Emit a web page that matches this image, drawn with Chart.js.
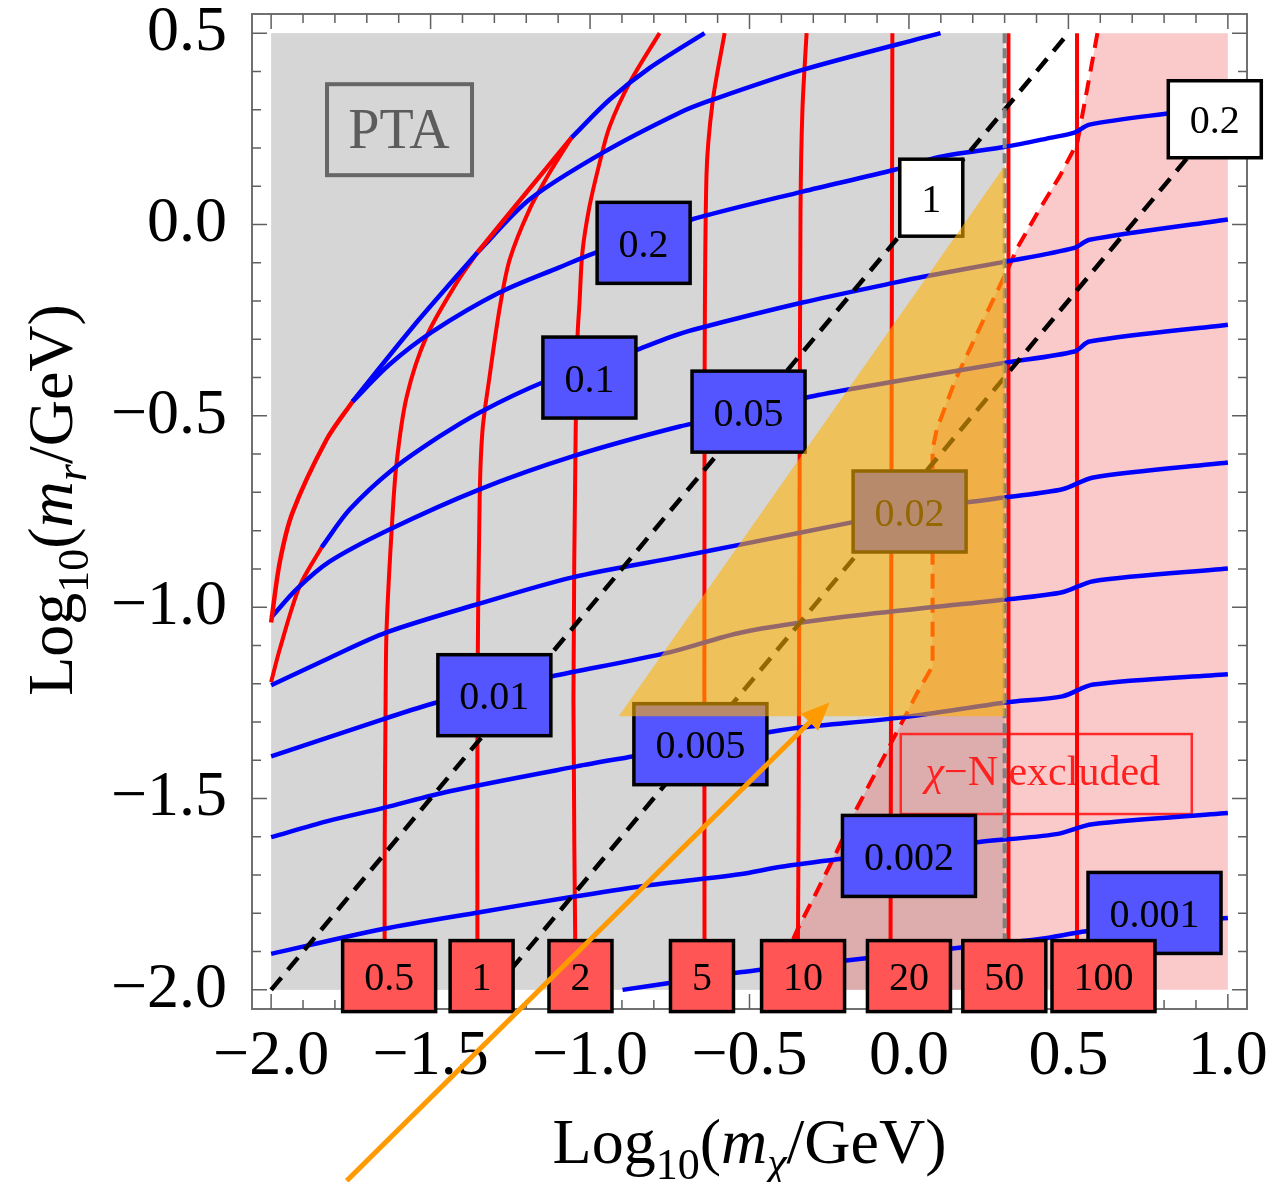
<!DOCTYPE html>
<html>
<head>
<meta charset="utf-8">
<title>Contours</title>
<script src="https://cdn.jsdelivr.net/npm/chart.js@4.4.1/dist/chart.umd.min.js"></script>
<style>
  html, body { margin: 0; padding: 0; background: #ffffff; }
  canvas { display: block; }
</style>
</head>
<body>
<canvas id="contours" width="1272" height="1182"></canvas>
<script>
// axis ticks
const xMajorTicks = [-2.0, -1.5, -1.0, -0.5, 0.0, 0.5, 1.0];
const yMajorTicks = [-2.0, -1.5, -1.0, -0.5, 0.0, 0.5];
const xMinorTicks = [-1.9, -1.8, -1.7, -1.6, -1.4, -1.3, -1.2, -1.1, -0.9, -0.8, -0.7, -0.6,
                     -0.4, -0.3, -0.2, -0.1, 0.1, 0.2, 0.3, 0.4, 0.6, 0.7, 0.8, 0.9];
const yMinorTicks = [-1.9, -1.8, -1.7, -1.6, -1.4, -1.3, -1.2, -1.1, -0.9, -0.8, -0.7, -0.6,
                     -0.4, -0.3, -0.2, -0.1, 0.1, 0.2, 0.3, 0.4];

// blue contours [log10 m_chi, log10 m_r]
const blue_0_2 = [[-1.745,-0.463],[-1.629,-0.366],[-1.494,-0.280],[-1.284,-0.178],[-1.096,-0.112],[-0.980,-0.073],[-0.829,-0.032],[-0.682,0.013],[-0.334,0.086],[-0.045,0.143],[0.099,0.177],[0.303,0.203],[0.447,0.227],[0.519,0.240],[0.566,0.261],[0.829,0.292],[1.0,0.310]];
const blue_0_1 = [[-1.842,-0.844],[-1.754,-0.745],[-1.619,-0.640],[-1.472,-0.554],[-1.346,-0.491],[-1.149,-0.413],[-1.002,-0.374],[-0.851,-0.327],[-0.751,-0.295],[-0.676,-0.275],[-0.334,-0.204],[-0.045,-0.152],[0.049,-0.136],[0.303,-0.097],[0.519,-0.061],[0.566,-0.040],[1.0,0.013]];
const blue_0_05 = [[-2.0,-1.027],[-1.920,-0.953],[-1.817,-0.881],[-1.629,-0.797],[-1.346,-0.692],[-1.055,-0.606],[-0.719,-0.528],[-0.503,-0.489],[-0.321,-0.452],[-0.190,-0.431],[0.027,-0.400],[0.303,-0.361],[0.519,-0.332],[0.566,-0.306],[1.0,-0.262]];
const blue_0_02 = [[-2.0,-1.204],[-1.826,-1.136],[-1.638,-1.066],[-1.356,-0.993],[-1.055,-0.922],[-0.719,-0.868],[-0.525,-0.836],[-0.183,-0.779],[0.002,-0.750],[0.183,-0.726],[0.303,-0.713],[0.481,-0.692],[0.578,-0.661],[1.0,-0.622]];
const blue_0_01 = [[-2.0,-1.390],[-1.650,-1.293],[-1.481,-1.249],[-1.300,-1.215],[-1.121,-1.181],[-0.751,-1.118],[-0.525,-1.066],[-0.190,-1.024],[0.303,-0.980],[0.481,-0.961],[0.578,-0.932],[1.0,-0.899]];
const blue_0_005 = [[-2.0,-1.601],[-1.823,-1.559],[-1.650,-1.525],[-1.440,-1.481],[-1.042,-1.416],[-0.867,-1.390],[-0.654,-1.358],[-0.440,-1.327],[-0.334,-1.314],[-0.020,-1.288],[0.303,-1.249],[0.481,-1.233],[0.578,-1.202],[1.0,-1.175]];
const blue_0_002 = [[-2.0,-1.906],[-1.650,-1.841],[-1.346,-1.797],[-1.064,-1.758],[-0.835,-1.729],[-0.531,-1.698],[-0.406,-1.679],[-0.218,-1.658],[0.0,-1.637],[0.215,-1.614],[0.462,-1.593],[0.575,-1.567],[1.0,-1.538]];
const blue_0_001 = [[-0.898,-2.0],[-0.710,-1.977],[-0.531,-1.954],[-0.218,-1.925],[0.199,-1.886],[0.409,-1.867],[0.556,-1.847],[0.770,-1.828],[1.0,-1.812]];
const blue_top = [[-1.353,-0.073],[-1.190,0.065],[-0.961,0.187],[-0.719,0.292],[-0.616,0.326],[-0.334,0.404],[0.099,0.500]];

// outer envelope, alternating colours
const edge_red_a = [[-2.0,-1.040],[-1.973,-0.883],[-1.933,-0.753],[-1.826,-0.562],[-1.745,-0.463]];
const edge_blue_a = [[-1.745,-0.463],[-1.550,-0.262],[-1.353,-0.073]];
const edge_red_b = [[-1.353,-0.073],[-1.205,0.078],[-1.058,0.227]];
const edge_blue_b = [[-1.058,0.227],[-0.939,0.326],[-0.813,0.409],[-0.641,0.500]];
const edge_red_c = [[-2.0,-1.196],[-1.973,-1.110],[-1.911,-0.946],[-1.842,-0.844]];

// red contours
const red_0_5 = [[-1.644,-2.0],[-1.644,-1.632],[-1.641,-1.241],[-1.638,-1.058],[-1.622,-0.797],[-1.607,-0.626],[-1.575,-0.450],[-1.513,-0.293],[-1.418,-0.152],[-1.353,-0.073]];
const red_1 = [[-1.353,-2.0],[-1.353,-1.241],[-1.346,-0.711],[-1.337,-0.536],[-1.315,-0.397],[-1.284,-0.222],[-1.252,-0.092],[-1.190,0.039],[-1.127,0.135],[-1.058,0.227]];
const red_2 = [[-1.045,-2.0],[-1.052,-1.241],[-1.045,-0.536],[-1.039,-0.288],[-1.033,-0.204],[-1.024,-0.073],[-1.002,0.046],[-0.970,0.161],[-0.939,0.255],[-0.876,0.370],[-0.782,0.5]];
const red_5 = [[-0.641,-2.0],[-0.641,-0.536],[-0.635,0.125],[-0.616,0.318],[-0.578,0.5]];
const red_10 = [[-0.349,-2.0],[-0.346,-1.554],[-0.343,-0.718],[-0.340,0.039],[-0.334,0.300],[-0.321,0.5]];
const red_20 = [[-0.058,-2.0],[-0.055,-0.718],[-0.052,0.5]];
const red_50 = [[0.312,-2.0],[0.312,0.5]];
const red_100 = [[0.527,-2.0],[0.527,0.5]];

// m_r / m_chi ratio lines
const ratio_1 = [[-2.0,-2.0],[0.5,0.5]];
const ratio_0_2 = [[-1.301,-2.0],[1.0,0.301]];

// regions
const ptaX = [-2.0, 0.3];
const ptaY = [-2.0, 0.5];
const excludedEdge = [[0.591,0.5],[0.566,0.386],[0.541,0.274],[0.528,0.214],[0.472,0.125],[0.409,0.039],[0.340,-0.061],[0.309,-0.118],[0.230,-0.256],[0.146,-0.405],[0.087,-0.536],[0.074,-0.588],[0.074,-1.154],[0.027,-1.222],[-0.017,-1.293],[-0.071,-1.379],[-0.165,-1.528],[-0.227,-1.640],[-0.290,-1.745],[-0.349,-1.841],[-0.434,-2.0]];
const excludedOuter = [[1.0,-2.0],[1.0,0.5]];
const triangle = [[-0.91,-1.285],[0.3,-1.285],[0.3,0.153]];
const arrowTail = [-1.763,-2.499];
const arrowTip = [-0.249,-1.249];

// contour labels
const blueLabels = ['0.2','0.1','0.05','0.02','0.01','0.005','0.002','0.001'];
const blueLabelPos = [[-0.832,-0.048],[-1.002,-0.400],[-0.503,-0.489],[0.002,-0.750],[-1.300,-1.230],[-0.654,-1.358],[0.0,-1.650],[0.770,-1.799]];
const redLabels = ['0.5','1','2','5','10','20','50','100'];
const redLabelX = [-1.630,-1.340,-1.030,-0.649,-0.332,0.0,0.299,0.610];
const redLabelY = -1.964;
const ratioLabels = ['1','0.2'];
const ratioLabelPos = [[0.070,0.070],[0.959,0.275]];
const ptaPos = [-1.599, 0.249];
const excludedPos = [0.429, -1.436];

const SERIF = '"Liberation Serif", "DejaVu Serif", serif';
const RED = '#ff0000';
const BLUE = '#0000ff';

const datasets = [];
function addLine(points, color, width, dash, tension) {
    datasets.push({
        data: points.map(p => ({ x: p[0], y: p[1] })),
        showLine: true,
        fill: false,
        pointRadius: 0,
        pointHoverRadius: 0,
        borderColor: color,
        borderWidth: width,
        borderDash: dash || [],
        borderCapStyle: 'butt',
        tension: tension,
        order: -datasets.length // later lines drawn on top
    });
}

[red_0_5, red_1, red_2, red_5, red_10, red_20, red_50, red_100, edge_red_c].forEach(c => addLine(c, RED, 4, null, 0.3));
addLine(excludedEdge, RED, 4, [15, 9], 0);
[blue_0_2, blue_0_1, blue_0_05, blue_0_02, blue_0_01, blue_0_005, blue_0_002, blue_0_001, blue_top].forEach(c => addLine(c, BLUE, 4.5, null, 0.3));
addLine(edge_red_a, RED, 4.5, null, 0.3);
addLine(edge_blue_a, BLUE, 4.5, null, 0.3);
addLine(edge_red_b, RED, 4.5, null, 0.3);
addLine(edge_blue_b, BLUE, 4.5, null, 0.3);
addLine(ratio_1, '#000000', 4.5, [16, 10], 0);
addLine(ratio_0_2, '#000000', 4.5, [16, 10], 0);

function px(chart, p) {
    return [chart.scales.x.getPixelForValue(p[0]), chart.scales.y.getPixelForValue(p[1])];
}

function polygon(ctx, chart, pts) {
    ctx.beginPath();
    pts.forEach((p, i) => {
        const [x, y] = px(chart, p);
        if (i === 0) ctx.moveTo(x, y); else ctx.lineTo(x, y);
    });
    ctx.closePath();
}

// draws pieces of text with mixed fonts, centred on (cx, cy)
function drawRich(ctx, pieces, cx, cy, rot, color) {
    ctx.save();
    ctx.translate(cx, cy);
    if (rot) ctx.rotate(rot);
    let total = 0;
    pieces.forEach(p => { ctx.font = p.font; p.w = ctx.measureText(p.t).width; total += p.w; });
    let x = -total / 2;
    ctx.textAlign = 'left';
    ctx.textBaseline = 'alphabetic';
    ctx.fillStyle = color || '#000';
    pieces.forEach(p => { ctx.font = p.font; ctx.fillText(p.t, x, p.dy || 0); x += p.w; });
    ctx.restore();
}

function labelBox(ctx, chart, text, pos, fill, h, border) {
    ctx.font = '40px ' + SERIF;
    const w = ctx.measureText(text).width + 43;
    const [cx, cy] = px(chart, pos);
    ctx.fillStyle = fill;
    ctx.fillRect(cx - w / 2, cy - h / 2, w, h);
    ctx.lineWidth = 3.5;
    ctx.strokeStyle = border || '#000';
    ctx.strokeRect(cx - w / 2, cy - h / 2, w, h);
    ctx.fillStyle = '#000';
    ctx.textAlign = 'center';
    ctx.textBaseline = 'alphabetic';
    ctx.fillText(text, cx, cy + 14);
}

const decor = {
    id: 'decor',
    beforeDatasetsDraw(chart) {
        const { ctx, chartArea: a } = chart;
        ctx.save();
        ctx.beginPath();
        ctx.rect(a.left, a.top, a.width, a.height);
        ctx.clip();

        // PTA region
        const [gx0, gy0] = px(chart, [ptaX[0], ptaY[1]]);
        const [gx1, gy1] = px(chart, [ptaX[1], ptaY[0]]);
        ctx.fillStyle = '#d6d6d6';
        ctx.fillRect(gx0, gy0, gx1 - gx0, gy1 - gy0);

        // chi-N excluded region
        polygon(ctx, chart, excludedEdge.concat(excludedOuter));
        ctx.fillStyle = 'rgba(240, 80, 80, 0.3)';
        ctx.fill();

        // PTA tag
        let [cx, cy] = px(chart, ptaPos);
        ctx.lineWidth = 4;
        ctx.strokeStyle = '#666666';
        ctx.strokeRect(cx - 72, cy - 45, 145, 91);
        ctx.fillStyle = '#5c5c5c';
        ctx.font = '56px ' + SERIF;
        ctx.textAlign = 'center';
        ctx.textBaseline = 'alphabetic';
        ctx.fillText('PTA', cx, cy + 19);

        // excluded tag
        [cx, cy] = px(chart, excludedPos);
        ctx.lineWidth = 2.5;
        ctx.strokeStyle = '#ff2a2a';
        ctx.strokeRect(cx - 145, cy - 40, 291, 80);
        drawRich(ctx, [
            { t: 'χ', font: 'italic 42px ' + SERIF },
            { t: '−N excluded', font: '42px ' + SERIF }
        ], cx - 3, cy + 11, 0, '#ff2020');
        ctx.restore();
    },
    afterDatasetsDraw(chart) {
        const { ctx, chartArea: a } = chart;
        const xs = chart.scales.x, ys = chart.scales.y;

        // PTA boundary
        ctx.save();
        const [lx, ly0] = px(chart, [ptaX[1], ptaY[1]]);
        const [, ly1] = px(chart, [ptaX[1], ptaY[0]]);
        ctx.strokeStyle = '#808080';
        ctx.lineWidth = 4;
        ctx.setLineDash([10, 5]);
        ctx.beginPath();
        ctx.moveTo(lx, ly0);
        ctx.lineTo(lx, ly1);
        ctx.stroke();
        ctx.restore();

        // frame and inward ticks
        ctx.save();
        ctx.strokeStyle = '#707070';
        ctx.lineWidth = 2;
        ctx.strokeRect(a.left, a.top, a.width, a.height);
        ctx.lineWidth = 1.5;
        ctx.strokeStyle = '#606060';
        ctx.beginPath();
        const tickX = (v, len) => {
            const x = xs.getPixelForValue(v);
            ctx.moveTo(x, a.bottom); ctx.lineTo(x, a.bottom - len);
            ctx.moveTo(x, a.top); ctx.lineTo(x, a.top + len);
        };
        const tickY = (v, len) => {
            const y = ys.getPixelForValue(v);
            ctx.moveTo(a.left, y); ctx.lineTo(a.left + len, y);
            ctx.moveTo(a.right, y); ctx.lineTo(a.right - len, y);
        };
        xMajorTicks.forEach(v => tickX(v, 15));
        xMinorTicks.forEach(v => tickX(v, 9));
        yMajorTicks.forEach(v => tickY(v, 15));
        yMinorTicks.forEach(v => tickY(v, 9));
        ctx.stroke();
        ctx.restore();

        // contour labels
        ctx.save();
        blueLabels.forEach((t, i) => labelBox(ctx, chart, t, blueLabelPos[i], '#5555ff', 81));
        redLabels.forEach((t, i) => labelBox(ctx, chart, t, [redLabelX[i], redLabelY], '#ff5555', 71));
        ratioLabels.forEach((t, i) => labelBox(ctx, chart, t, ratioLabelPos[i], '#ffffff', 77));
        ctx.restore();

        // heavy mixing band
        ctx.save();
        ctx.beginPath();
        ctx.rect(a.left, a.top, a.width, a.height);
        ctx.clip();
        polygon(ctx, chart, triangle);
        ctx.fillStyle = 'rgba(255, 178, 0, 0.58)';
        ctx.fill();
        ctx.restore();

        // axis titles
        ctx.save();
        drawRich(ctx, [
            { t: 'Log', font: '64px ' + SERIF },
            { t: '10', font: '44px ' + SERIF, dy: 16 },
            { t: '(', font: '64px ' + SERIF },
            { t: 'm', font: 'italic 64px ' + SERIF },
            { t: 'χ', font: 'italic 44px ' + SERIF, dy: 14 },
            { t: '/GeV)', font: '64px ' + SERIF }
        ], (a.left + a.right) / 2, 1163, 0);
        drawRich(ctx, [
            { t: 'Log', font: '64px ' + SERIF },
            { t: '10', font: '44px ' + SERIF, dy: 16 },
            { t: '(', font: '64px ' + SERIF },
            { t: 'm', font: 'italic 64px ' + SERIF },
            { t: 'r', font: 'italic 44px ' + SERIF, dy: 14 },
            { t: '/GeV)', font: '64px ' + SERIF }
        ], 72, 500, -Math.PI / 2);
        ctx.restore();

        // arrow
        ctx.save();
        const [tx, ty] = px(chart, arrowTail);
        const [hx, hy] = px(chart, arrowTip);
        const ang = Math.atan2(hy - ty, hx - tx);
        const headLen = 28, headW = 12;
        const bx = hx - headLen * Math.cos(ang), by = hy - headLen * Math.sin(ang);
        ctx.strokeStyle = '#ff9a00';
        ctx.fillStyle = '#ff9a00';
        ctx.lineWidth = 5;
        ctx.beginPath();
        ctx.moveTo(tx, ty);
        ctx.lineTo(bx, by);
        ctx.stroke();
        ctx.beginPath();
        ctx.moveTo(hx, hy);
        ctx.lineTo(bx + headW * Math.sin(ang), by - headW * Math.cos(ang));
        ctx.lineTo(bx - headW * Math.sin(ang), by + headW * Math.cos(ang));
        ctx.closePath();
        ctx.fill();
        ctx.restore();
    }
};

const fmt = v => (Math.abs(v) < 1e-9 ? 0 : v).toFixed(1).replace('-', '\u2212');

new Chart(document.getElementById('contours'), {
    type: 'scatter',
    data: { datasets: datasets },
    options: {
        responsive: false,
        animation: false,
        devicePixelRatio: 1,
        layout: { padding: { top: 14, right: 25, left: 0, bottom: 0 } },
        plugins: { legend: { display: false }, tooltip: { enabled: false } },
        scales: {
            x: {
                type: 'linear',
                min: -2.06,
                max: 1.06,
                grid: { display: false },
                border: { display: false },
                afterBuildTicks: s => { s.ticks = xMajorTicks.map(v => ({ value: v })); },
                afterFit: s => { s.height = 173; s.paddingLeft = 0; s.paddingRight = 0; },
                ticks: {
                    autoSkip: false,
                    maxRotation: 0,
                    padding: 2,
                    color: '#000',
                    font: { family: SERIF, size: 64 },
                    callback: v => fmt(v)
                }
            },
            y: {
                type: 'linear',
                min: -2.05,
                max: 0.55,
                grid: { display: false },
                border: { display: false },
                afterBuildTicks: s => { s.ticks = yMajorTicks.map(v => ({ value: v })); },
                afterFit: s => { s.width = 252; s.paddingTop = 0; s.paddingBottom = 0; },
                ticks: {
                    autoSkip: false,
                    padding: 17,
                    color: '#000',
                    font: { family: SERIF, size: 64 },
                    callback: v => fmt(v)
                }
            }
        }
    },
    plugins: [decor]
});
</script>
</body>
</html>
